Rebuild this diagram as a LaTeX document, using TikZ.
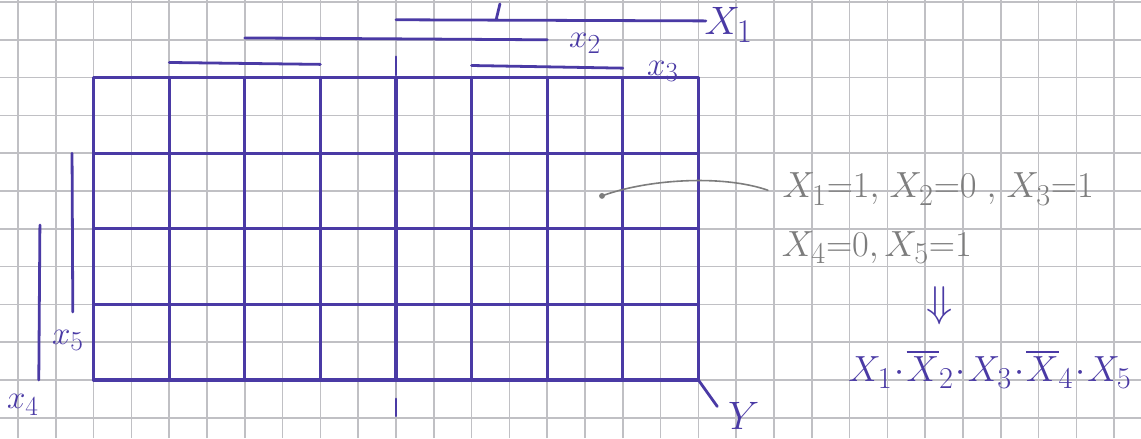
\documentclass[tikz,border=0pt]{standalone}
\usepackage{xcolor}
\usepackage{amsmath}
\usepackage{tikz}
\usetikzlibrary{calc}
\definecolor{mypen}{RGB}{74,58,165}
\definecolor{mypencil}{RGB}{125,125,125}
\definecolor{mypaper}{RGB}{192,192,196}
\tikzset{
  paper/.style={draw=mypaper, line width=1.1pt},
  pen/.style={draw=mypen, line width=2.3pt, line cap=round},
  barline/.style={draw=mypen, line width=2.1pt, line cap=round},
  pencil/.style={draw=mypencil, line width=1.2pt, line cap=round},
  varlabel/.style={text=mypen, inner sep=0pt, font=\Huge},
  notelabel/.style={text=mypencil, inner sep=0pt, anchor=west, font=\Huge, scale=1.1}
}

\begin{document}
\begin{tikzpicture}[x=1cm, y=1cm]
  \useasboundingbox (-0.476,0.053) rectangle (29.71,-11.535);
  % Graph paper
  \fill[white] (-0.476,0.053) rectangle (29.71,-11.535);
  \draw[paper] (-0.476,0.053) grid (29.71,-11.535);

  % Map: 8 columns, 4 rows
  \foreach \c in {2,4,...,18}
    \draw[pen] (\c,-2) -- (\c,-10);
  \foreach \r in {2,4,...,10}
    \draw[pen] (2,-\r) -- (18,-\r);

  % Bars on top
  \draw[barline] (10,-0.47) -- (18.2,-0.5);
  \draw[barline] (12.65,-0.47) -- (12.75,-0.05);
  \draw[barline] (6,-0.95) -- (14,-1.0);
  \draw[barline] (4,-1.6) -- (8,-1.65);
  \draw[barline] (12,-1.68) -- (16,-1.75);
  \draw[barline] (10,-1.45) -- (10,-1.93);
  \draw[barline] (10,-10.5) -- (10,-10.95);

  % Bars on the left
  \draw[barline] (1.43,-4) -- (1.45,-8.2);
  \draw[barline] (0.58,-5.9) -- (0.55,-10);

  % Output line
  \draw[barline] (18,-10) -- (18.5,-10.7);

  % Variable labels
  \node[varlabel, scale=1.2] (lblX1) at (18.8,-0.6) {$X_1$};
  \node[varlabel] (lblX2) at (15.0,-1.1) {$x_2$};
  \node[varlabel] (lblX3) at (17.06,-1.83) {$x_3$};
  \node[varlabel] (lblX5) at (1.32,-8.95) {$x_5$};
  \node[varlabel] (lblX4) at (0.13,-10.66) {$x_4$};
  \node[varlabel, scale=1.2] (lblY) at (19.2,-10.95) {$Y$};

  % Marked cell and its note
  \coordinate (cell) at (15.45,-5.13);
  \fill[mypencil] (cell) circle (2.2pt);
  \node[notelabel] (given1) at (20.22,-4.95)
    {$X_1{=}1{,}\;X_2{=}0\;{,}\;X_3{=}1$};
  \node[notelabel] (given2) at (20.2,-6.5)
    {$X_4{=}0{,}\,X_5{=}1$};
  \coordinate (noteend) at (19.84,-4.98);
  \draw[pencil] (cell) .. controls (16.6,-4.7) and (18.6,-4.55) .. (noteend);

  % Result
  \node[varlabel, scale=1.3] (arrowdn) at (24.39,-8.04) {$\Downarrow$};
  \node[varlabel, anchor=west, scale=1.1] (result) at (21.96,-9.72)
    {$X_1\mkern1mu{\cdot}\mkern1mu\overline{X}_2\mkern1mu{\cdot}\mkern1mu X_3\mkern1mu{\cdot}\mkern1mu\overline{X}_4\mkern1mu{\cdot}\mkern1mu X_5$};
\end{tikzpicture}
\end{document}
